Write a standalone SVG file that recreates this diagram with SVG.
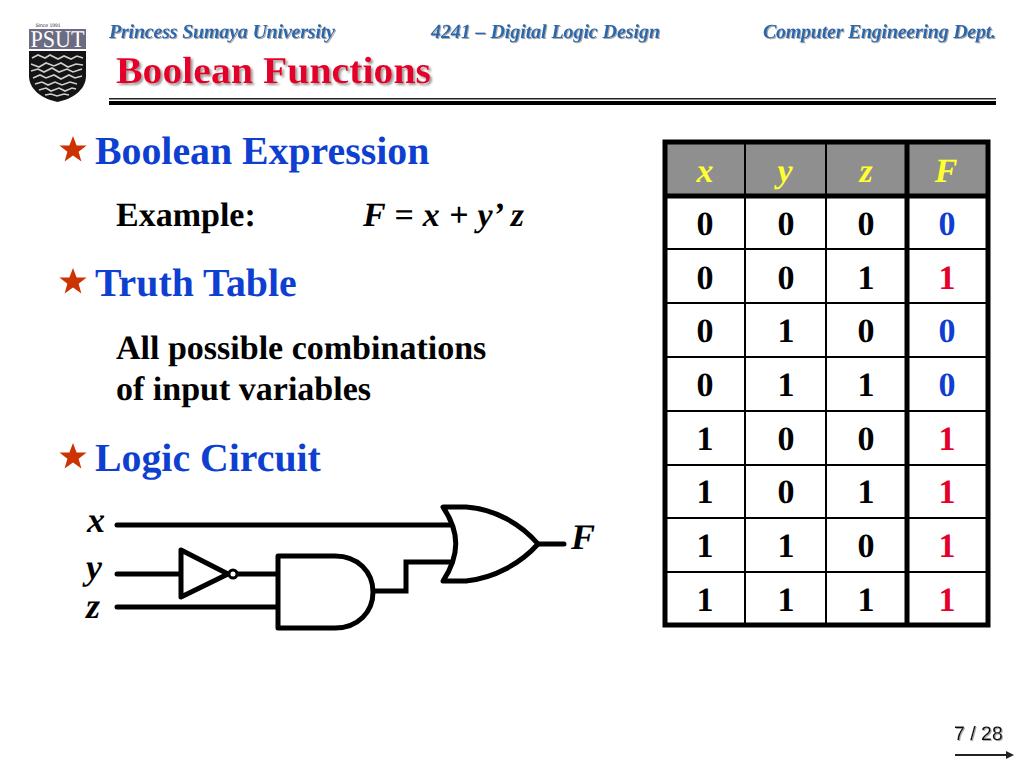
<svg xmlns="http://www.w3.org/2000/svg" width="1024" height="768" viewBox="0 0 1024 768">
<style>
text{font-family:"Liberation Serif","Times New Roman",serif;font-weight:bold;text-rendering:geometricPrecision}
.hdr{font-size:20px;font-style:italic;fill:#2a68ad;filter:url(#soft)}
.title{font-size:38px;fill:#e4002b;filter:url(#shadow)}
.head{font-size:39.800px;fill:#0f3fd0}
.body{font-size:34px;fill:#000}
.var{font-size:36px;font-style:italic;fill:#000}
.th{font-size:34px;font-style:italic;fill:#ffff33;text-anchor:middle}
.d{font-size:34px;fill:#000;text-anchor:middle}
.b{fill:#0f3fd0}.r{fill:#e4002b}
.w{fill:none;stroke:#000;stroke-width:5;stroke-linejoin:miter;stroke-linecap:round}
.thick{stroke:#000;stroke-width:5}.thin{stroke:#000;stroke-width:2}
.star{fill:#cc3300}
.trace{fill:none;stroke:#cfcfcf;stroke-width:1.600}
</style>
<defs>
<filter id="shadow" x="-5%" y="-10%" width="110%" height="125%"><feDropShadow dx="2" dy="2" stdDeviation="0.8" flood-color="#999"/></filter>
<filter id="soft" x="-5%" y="-10%" width="110%" height="130%"><feDropShadow dx="1" dy="1" stdDeviation="0.6" flood-color="#aaa"/></filter>
<polygon id="s" points="0,-14 3.6,-4.4 13.6,-4.4 5.6,1.8 8.4,11.5 0,5.6 -8.4,11.5 -5.6,1.8 -13.6,-4.4 -3.6,-4.4"/>
<marker id="arr" markerUnits="userSpaceOnUse" markerWidth="9" markerHeight="9" refX="1" refY="4" orient="auto"><path d="M0,0L8,4L0,8Z" fill="#222"/></marker>
</defs>
<rect width="1024" height="768" fill="#fff"/>
<g id="logo">
<text x="48" y="27" font-size="5" text-anchor="middle" fill="#333" style="font-family:'Liberation Sans',sans-serif;font-weight:normal">Since 1991</text>
<rect x="29" y="29" width="57" height="20" fill="#6b6b82"/>
<text x="57.500" y="47" font-size="24" fill="#fff" text-anchor="middle" textLength="54" lengthAdjust="spacingAndGlyphs" style="font-weight:normal">PSUT</text>
<path d="M29,51H86V76C86,90 72,99 57.500,102C43,99 29,90 29,76Z" fill="#141414"/>
<path class="trace" d="M32,58l6,-3l7,3l5,-3l8,4l6,-3l7,3l6,-3l6,2M31,64l8,3l7,-4l8,3l7,-3l7,4l8,-3l7,1M31,71l7,-2l6,3l8,-4l7,4l8,-3l6,3l9,-3M33,78l7,-3l6,3l8,-3l7,4l8,-4l6,3l7,-2M35,84l7,-2l6,3l7,-3l7,3l8,-3l7,2M39,90l7,-2l5,3l8,-3l6,3l7,-3l4,1M45,95l6,-1l6,2l7,-2l5,1"/>
</g>
<g id="header">
<text class="hdr" x="109" y="38" textLength="226">Princess Sumaya University</text>
<text class="hdr" x="431" y="38" textLength="229">4241 – Digital Logic Design</text>
<text class="hdr" x="763" y="38" textLength="233">Computer Engineering Dept.</text>
<text class="title" x="116" y="83" textLength="315" lengthAdjust="spacingAndGlyphs">Boolean Functions</text>
<rect x="109" y="98" width="887" height="1.500" fill="#222"/>
<rect x="109" y="101" width="887" height="4" fill="#000"/>
</g>
<g id="bullets">
<use href="#s" x="73" y="150" class="star"/>
<text class="head" x="95" y="164">Boolean Expression</text>
<text class="body" x="116" y="226">Example:</text>
<text class="body" x="363" y="226" style="font-style:italic" textLength="161">F = x + y’ z</text>
<use href="#s" x="73" y="282" class="star"/>
<text class="head" x="95" y="296">Truth Table</text>
<text class="body" x="116" y="359">All possible combinations</text>
<text class="body" x="116" y="400">of input variables</text>
<use href="#s" x="73" y="457" class="star"/>
<text class="head" x="95" y="471">Logic Circuit</text>
</g>
<g id="connectors">
<path class="w" d="M117,525H450"/>
<path class="w" d="M117,574H181"/>
<path class="w" d="M237,574H277"/>
<path class="w" d="M117,607H277"/>
<path class="w" d="M373,591H406V562H450"/>
<path class="w" d="M538,544H564"/>
</g>
<g id="gate-not"><path d="M181,550V597L228,574Z" fill="#fff" stroke="#000" stroke-width="5" stroke-linejoin="round"/><circle cx="233" cy="574" r="4" fill="#fff" stroke="#000" stroke-width="3"/></g>
<g id="gate-and"><path d="M278,556H335C358,556 373,572 373,592C373,612 358,628 335,628H278Z" fill="#fff" stroke="#000" stroke-width="5" stroke-linejoin="round"/></g>
<g id="gate-or"><path d="M443,507H466C495,509 521,524 538,544C521,563 495,578 466,581H443C460,555 460,532 443,507Z" fill="#fff" stroke="#000" stroke-width="5" stroke-linejoin="round"/></g>
<g id="labels">
<text class="var" x="87" y="532">x</text><text class="var" x="86" y="579">y</text><text class="var" x="86" y="618">z</text><text class="var" x="571" y="549">F</text>
</g>
<g id="truth-table">
<rect x="665" y="142" width="323" height="54" fill="#8f8f8f"/>
<g class="thin"><line x1="745" y1="142" x2="745" y2="625"/><line x1="826" y1="142" x2="826" y2="625"/>
<line x1="665" y1="249" x2="988" y2="249"/><line x1="665" y1="303" x2="988" y2="303"/><line x1="665" y1="357" x2="988" y2="357"/><line x1="665" y1="411" x2="988" y2="411"/><line x1="665" y1="465" x2="988" y2="465"/><line x1="665" y1="518" x2="988" y2="518"/><line x1="665" y1="572" x2="988" y2="572"/></g>
<g class="thick"><rect x="665" y="142" width="323" height="483" fill="none"/><line x1="665" y1="196" x2="988" y2="196"/><line x1="907" y1="142" x2="907" y2="625"/></g>
<text class="th" x="705" y="182">x</text><text class="th" x="785" y="182">y</text><text class="th" x="866" y="182">z</text><text class="th" x="946" y="182">F</text>
<text class="d" x="705" y="235">0</text><text class="d" x="786" y="235">0</text><text class="d" x="866" y="235">0</text><text class="d b" x="947" y="235">0</text>
<text class="d" x="705" y="289">0</text><text class="d" x="786" y="289">0</text><text class="d" x="866" y="289">1</text><text class="d r" x="947" y="289">1</text>
<text class="d" x="705" y="342">0</text><text class="d" x="786" y="342">1</text><text class="d" x="866" y="342">0</text><text class="d b" x="947" y="342">0</text>
<text class="d" x="705" y="396">0</text><text class="d" x="786" y="396">1</text><text class="d" x="866" y="396">1</text><text class="d b" x="947" y="396">0</text>
<text class="d" x="705" y="450">1</text><text class="d" x="786" y="450">0</text><text class="d" x="866" y="450">0</text><text class="d r" x="947" y="450">1</text>
<text class="d" x="705" y="503">1</text><text class="d" x="786" y="503">0</text><text class="d" x="866" y="503">1</text><text class="d r" x="947" y="503">1</text>
<text class="d" x="705" y="557">1</text><text class="d" x="786" y="557">1</text><text class="d" x="866" y="557">0</text><text class="d r" x="947" y="557">1</text>
<text class="d" x="705" y="611">1</text><text class="d" x="786" y="611">1</text><text class="d" x="866" y="611">1</text><text class="d r" x="947" y="611">1</text>
</g>
<g id="footer">
<text x="954" y="740" font-size="19.500" fill="#111" filter="url(#soft)" style="font-family:'Liberation Sans',Arial,sans-serif;font-weight:normal">7 / 28</text>
<line x1="955" y1="755" x2="1007" y2="755" stroke="#222" stroke-width="2" marker-end="url(#arr)"/>
</g>
</svg>
